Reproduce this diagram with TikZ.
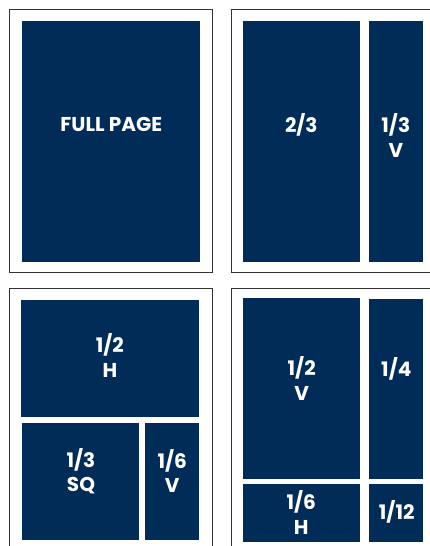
\documentclass[tikz,border=0pt]{standalone}
\usepackage{fontspec}
\setmainfont{Poppins}
\usepackage{tikz}
\definecolor{adnavy}{RGB}{1,44,88}
\definecolor{adframe}{RGB}{50,50,50}

\begin{document}
\begin{tikzpicture}[x=1pt, y=-1pt,
  pageframe/.style={draw=adframe, line width=0.9pt, fill=white},
  adblock/.style={fill=adnavy},
  adlabel/.style={text=white, align=center, inner sep=0pt,
    font=\fontsize{20}{24.5}\selectfont\bfseries}]
\useasboundingbox (0,0) rectangle (430,546);
\clip (0,0) rectangle (430,546);

%% TOP LEFT – full page
\draw[pageframe] (9,9.3) rectangle (212.7,272.7);
\fill[adblock] (22,20.7) rectangle (200,262);
\node[adlabel] (fullpage) at (111.3,124.7) {FULL PAGE};

%% TOP RIGHT – two thirds + one third vertical
\draw[pageframe] (231,9.3) rectangle (433,272.7);
\fill[adblock] (242.7,20.7) rectangle (360,262);
\fill[adblock] (368.7,20.7) rectangle (423,262);
\node[adlabel] (twothird) at (301.3,125) {2/3};
\node[adlabel] (thirdv) at (395.8,135.3) {1/3\\V};

%% BOTTOM LEFT – half horizontal, third square, sixth vertical
\draw[pageframe] (9,288.3) rectangle (212.7,550);
\fill[adblock] (20.7,300) rectangle (199,416.7);
\fill[adblock] (22,422.7) rectangle (139,539.7);
\fill[adblock] (145,422.7) rectangle (199,539.7);
\node[adlabel] (halfh) at (109.9,355.5) {1/2\\H};
\node[adlabel] (thirdsq) at (81,471) {1/3\\SQ};
\node[adlabel] (sixthv) at (172.2,471) {1/6\\V};

%% BOTTOM RIGHT – half vertical, quarter, sixth horizontal, twelfth
\draw[pageframe] (231,288.3) rectangle (433,550);
\fill[adblock] (242.7,298) rectangle (360,479);
\fill[adblock] (368.7,299) rectangle (423,479);
\fill[adblock] (242.7,483.7) rectangle (360,542);
\fill[adblock] (368.7,483.7) rectangle (423,542);
\node[adlabel] (halfv) at (301.7,378.3) {1/2\\V};
\node[adlabel] (quarter) at (396.3,369.2) {1/4};
\node[adlabel] (sixthh) at (301.3,512.3) {1/6\\H};
\node[adlabel] (twelfth) at (396.7,511.7) {1/12};
\end{tikzpicture}
\end{document}
